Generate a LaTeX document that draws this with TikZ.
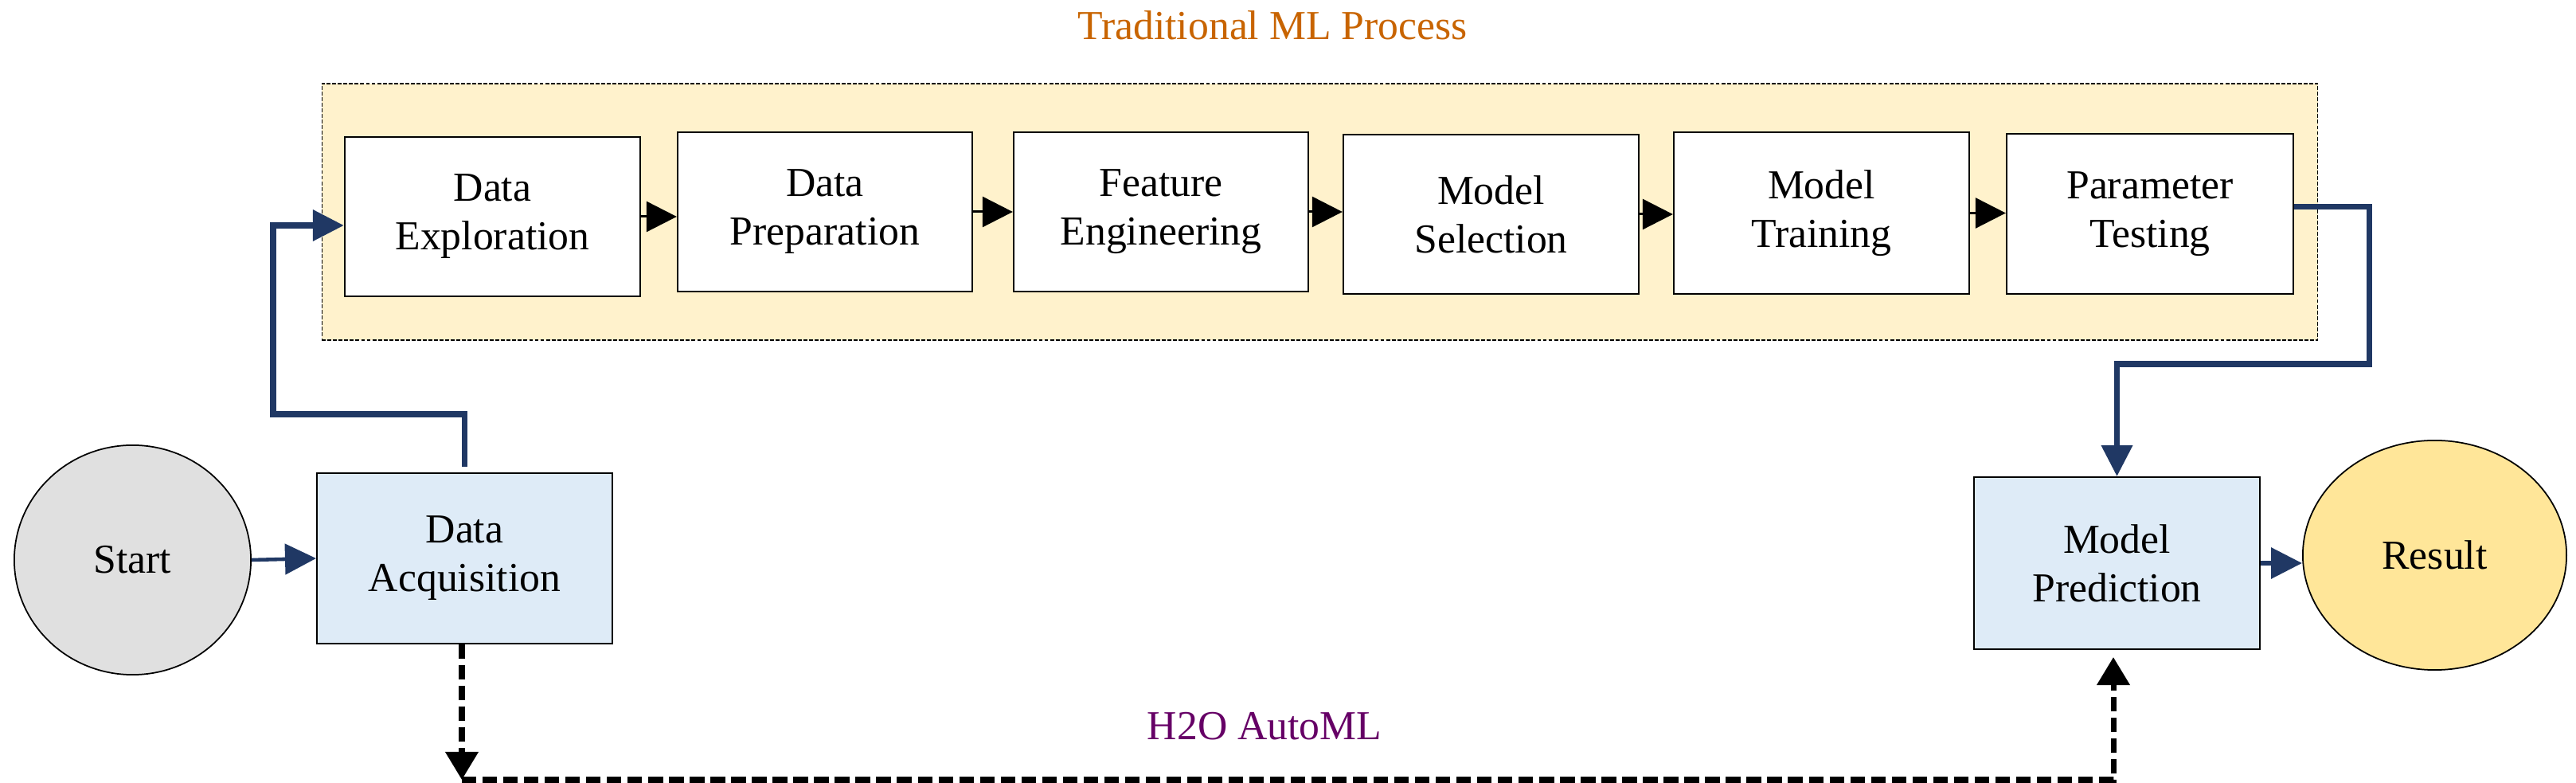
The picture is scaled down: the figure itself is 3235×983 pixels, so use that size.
\documentclass[tikz,border=0pt]{standalone}
\usepackage{fontspec}
\setmainfont{Liberation Serif}
\usetikzlibrary{arrows.meta,shapes.geometric}
\definecolor{mynavy}{HTML}{203864}
\definecolor{regionfill}{HTML}{FFF2CC}
\definecolor{bluefill}{HTML}{DEEBF7}
\definecolor{grayfill}{HTML}{E0E0E0}
\definecolor{resultfill}{HTML}{FFE699}
\definecolor{titleorange}{HTML}{C86400}
\definecolor{labelpurple}{HTML}{660066}
\begin{document}
\begin{tikzpicture}[x=0.01cm,y=-0.01cm,
  font=\fontsize{14.7}{17.3}\selectfont,
  mlregion/.style={draw=black, line width=0.4pt, dash pattern=on 1.4pt off 0.6pt, fill=regionfill, inner sep=0pt},
  procbox/.style={draw=black, line width=0.6pt, fill=white, inner sep=0pt, align=center},
  bluebox/.style={draw=black, line width=0.5pt, fill=bluefill, inner sep=0pt, align=center},
  termnode/.style={ellipse, draw=black, line width=0.5pt, inner sep=0pt},
  navyarr/.style={draw=mynavy, line width=2pt, -{Triangle[length=0.39cm,width=0.38cm]}},
  blkarr/.style={draw=black, line width=0.85pt, -{Triangle[length=0.38cm,width=0.38cm]}},
  dasharr/.style={draw=black, line width=2pt, dash pattern=on 5.2pt off 2.2pt, -{Triangle[length=0.35cm,width=0.40cm]}}
]
\useasboundingbox (0,0) rectangle (3235,983);

% region
\node[mlregion, minimum width=25.05cm, minimum height=3.22cm] (region) at (1657.5,266) {};
\node[anchor=base, text=titleorange] (title) at (1598,50) {Traditional ML Process};

% process boxes
\node[procbox, minimum width=3.71cm, minimum height=2.00cm] (DE) at (618.5,272) {Data\\Exploration};
\node[procbox, minimum width=3.70cm, minimum height=2.00cm] (DP) at (1036,266) {Data\\Preparation};
\node[procbox, minimum width=3.70cm, minimum height=2.00cm] (FE) at (1458,266) {Feature\\Engineering};
\node[procbox, minimum width=3.71cm, minimum height=2.00cm] (MS) at (1872.5,269) {Model\\Selection};
\node[procbox, minimum width=3.71cm, minimum height=2.03cm] (MT) at (2287.5,267.5) {Model\\Training};
\node[procbox, minimum width=3.60cm, minimum height=2.01cm] (PT) at (2700,268.5) {Parameter\\Testing};

% lower nodes
\node[termnode, fill=grayfill, minimum width=2.97cm, minimum height=2.88cm] (Start) at (166.5,703) {Start};
\node[bluebox, minimum width=3.71cm, minimum height=2.14cm] (DA) at (583.5,701) {Data\\Acquisition};
\node[bluebox, minimum width=3.59cm, minimum height=2.16cm] (MP) at (2658.5,707) {Model\\Prediction};
\node[termnode, fill=resultfill, minimum width=3.31cm, minimum height=2.88cm] (Result) at (3057.5,697) {Result};

% black arrows between process boxes
\draw[blkarr] (DE.east) -- (DE.east -| DP.west);
\draw[blkarr] (DP.east) -- (DP.east -| FE.west);
\draw[blkarr] (FE.east) -- (FE.east -| MS.west);
\draw[blkarr] (MS.east) -- (MS.east -| MT.west);
\draw[blkarr] (MT.east) -- (MT.east -| PT.west);

% navy connectors
\coordinate (a2) at (343,520);
\draw[navyarr] ([yshift=0.07cm]DA.north) |- (a2) |- ([yshift=-0.11cm]DE.west);
\coordinate (b1) at (2975,457);
\draw[navyarr] ([yshift=0.09cm]PT.east) -| (b1) -| (MP.north);
\draw[navyarr, line width=1.3pt] (Start.east) -- (DA.west);
\draw[navyarr, line width=1.8pt] (MP.east) -- (MP.east -| Result.west);

% dashed H2O AutoML path
\coordinate (d1) at (580,979);
\coordinate (d2) at (2654,979);
\coordinate (d3) at (2654,825);
\draw[dasharr] (DA.south -| d1) -- (d1);
\draw[dasharr] (d1) -- (d2) -- (d3);
\node[anchor=base, text=labelpurple] (h2o) at (1588,929) {H2O AutoML};
\end{tikzpicture}
\end{document}
